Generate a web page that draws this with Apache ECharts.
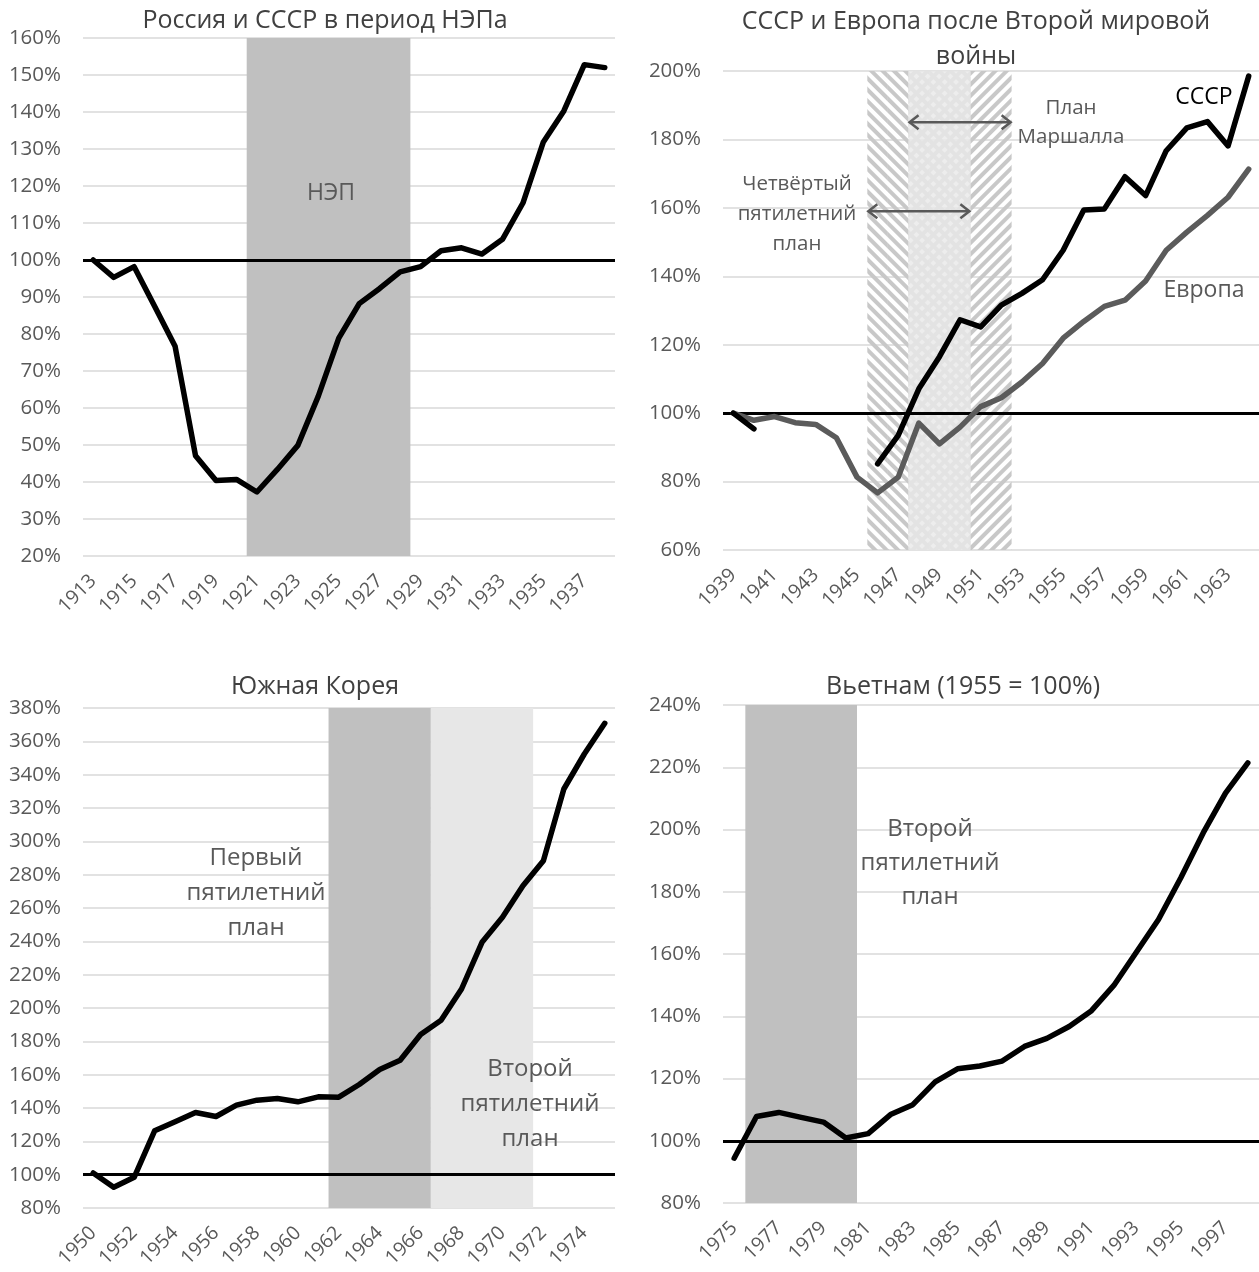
<!DOCTYPE html>
<html>
<head>
<meta charset="utf-8">
<script src="https://cdn.jsdelivr.net/npm/echarts@6/dist/echarts.min.js"></script>
<style>
  html, body { margin: 0; padding: 0; background: #fff; }
  #chart { width: 1259px; height: 1272px; }
</style>
</head>
<body>
<div id="chart"></div>
<script>
// --- данные (индекс, %)
var nepYears = ['1913','1914','1915','1916','1917','1918','1919','1920','1921','1922','1923','1924','1925',
  '1926','1927','1928','1929','1930','1931','1932','1933','1934','1935','1936','1937','1938'];
var nepIndex = [100, 95.3, 98.2, 87.5, 76.7, 47.1, 40.4, 40.7, 37.3, 43.4, 49.9, 63.2, 78.9,
  88.2, 92.3, 96.8, 98.2, 102.5, 103.3, 101.6, 105.6, 115.4, 131.9, 140.3, 152.8, 152.0];
var nepSpan = ['1921', '1928'];

var warYears = ['1939','1940','1941','1942','1943','1944','1945','1946','1947','1948','1949','1950','1951',
  '1952','1953','1954','1955','1956','1957','1958','1959','1960','1961','1962','1963','1964'];
var ussrIndex = [100, 95.4, null, null, null, null, null, 85.2, 93.5, 107.1, 116.5, 127.3, 125.2,
  131.6, 135, 139, 147.6, 159.4, 159.7, 169.1, 163.6, 176.7, 183.4, 185.2, 178.1, 198.5];
var europeIndex = [100, 97.9, 99, 97.2, 96.7, 92.8, 81.3, 76.7, 81.3, 97.1, 91.0, 95.9, 101.9,
  104.5, 109.1, 114.5, 121.9, 126.8, 131.2, 133, 138.6, 147.6, 152.9, 157.8, 163.1, 171.3];
var fourthPlanSpan = ['1946', '1950'];
var marshallSpan = ['1948', '1952'];

var koreaYears = ['1950','1951','1952','1953','1954','1955','1956','1957','1958','1959','1960','1961','1962',
  '1963','1964','1965','1966','1967','1968','1969','1970','1971','1972','1973','1974','1975'];
var koreaIndex = [101, 92.4, 98.4, 126.3, 131.7, 137.3, 134.9, 141.7, 144.7, 145.7, 143.7, 146.7, 146.5,
  154.1, 163.1, 168.7, 184.1, 192.6, 211.4, 239.4, 254.4, 273.4, 288.4, 331.4, 352.4, 370.8];
var koreaPlan1Span = ['1962', '1966'];
var koreaPlan2Span = ['1967', '1971'];

var vietYears = ['1975','1976','1977','1978','1979','1980','1981','1982','1983','1984','1985','1986',
  '1987','1988','1989','1990','1991','1992','1993','1994','1995','1996','1997','1998'];
var vietIndex = [94.4, 107.8, 109.1, 107.5, 106.0, 100.9, 102.3, 108.4, 111.6, 118.9, 123.1, 124.0,
  125.6, 130.3, 132.9, 136.7, 141.8, 149.9, 160.5, 171.1, 184.5, 198.9, 211.7, 221.4];
var vietPlan2Span = ['1976', '1980'];

(function() {
  var ink = '#000';
  var muted = '#595959';
  var rule = '#d9d9d9';
  var titleInk = '#404040';
  var font = '"Open Sans", "Noto Sans", sans-serif';

  var chart = echarts.init(document.getElementById('chart'), null, { renderer: 'canvas' });

  var grids = [
    { left: 83, right: 644, top: 38, bottom: 716 },
    { left: 723, right: 0, top: 71, bottom: 722 },
    { left: 83, right: 644, top: 708, bottom: 64 },
    { left: 723, right: 0, top: 705, bottom: 69 }
  ];
  var cats = [nepYears, warYears, koreaYears, vietYears];
  var yRange = [[20, 160, 10], [60, 200, 20], [80, 380, 20], [80, 240, 20]];

  function spanData(years, span, top) {
    return years.map(function(y) { return (y >= span[0] && y <= span[1]) ? top : '-'; });
  }

  var xAxes = cats.map(function(c, i) {
    return {
      type: 'category', gridIndex: i, data: c, boundaryGap: true,
      axisLine: { show: false }, axisTick: { show: false },
      axisLabel: { interval: 1, rotate: 45, fontSize: 19.5, color: muted, fontFamily: font, margin: 22 },
      splitLine: { show: false }
    };
  });
  var yAxes = yRange.map(function(r, i) {
    return {
      type: 'value', gridIndex: i, min: r[0], max: r[1], interval: r[2],
      axisLine: { show: false }, axisTick: { show: false },
      axisLabel: { fontSize: 20.5, color: muted, fontFamily: font, margin: 22,
        formatter: function(v) { return v + '%'; } },
      splitLine: { lineStyle: { color: rule, width: 1.5 } }
    };
  });

  var baseLine = {
    silent: true, symbol: ['none', 'none'],
    label: { show: false },
    lineStyle: { color: ink, width: 3, type: 'solid' },
    data: [{ yAxis: 100 }]
  };

  // сплошная заливка периода — один прямоугольник от края до края категорий
  function band(i, years, span, color, withBase, z) {
    var s = {
      type: 'custom', xAxisIndex: i, yAxisIndex: i, silent: true, z: z || 1,
      data: [[years.indexOf(span[0]), years.indexOf(span[1])]],
      encode: { x: [0, 1] },
      renderItem: function(params, api) {
        var a = api.coord([api.value(0), 0]);
        var b = api.coord([api.value(1), 0]);
        var w = api.size([1, 0])[0];
        var cs = params.coordSys;
        return {
          type: 'rect',
          shape: { x: a[0] - w / 2, y: cs.y, width: b[0] - a[0] + w, height: cs.height },
          style: { fill: color }
        };
      }
    };
    if (withBase) s.markLine = baseLine;
    return s;
  }
  function hatchBar(i, data, rot) {
    return {
      type: 'bar', xAxisIndex: i, yAxisIndex: i, data: data,
      barCategoryGap: '0%', barGap: '-100%', silent: true, z: 1,
      itemStyle: { color: 'rgba(0,0,0,0)',
        decal: { symbol: 'rect', symbolSize: 1, dashArrayX: [1, 0], dashArrayY: [4, 4],
          rotation: rot, color: '#c8c8c8' } }
    };
  }
  function line(i, data, color, name) {
    return {
      type: 'line', name: name, xAxisIndex: i, yAxisIndex: i, data: data,
      symbol: 'none', connectNulls: false, z: 6,
      lineStyle: { color: color, width: 5.5, cap: 'round', join: 'round' }
    };
  }

  var series = [
    // 1: НЭП
    band(0, nepYears, nepSpan, '#c0c0c0', true),
    line(0, nepIndex, ink, 'Россия/СССР'),
    // 2: СССР и Европа
    hatchBar(1, spanData(warYears, fourthPlanSpan, 200), Math.PI / 4),
    hatchBar(1, spanData(warYears, marshallSpan, 200), -Math.PI / 4),
    band(1, warYears, [marshallSpan[0], fourthPlanSpan[1]], 'rgba(233,233,233,0.82)', true, 3),
    line(1, europeIndex, '#5b5b5b', 'Европа'),
    line(1, ussrIndex, ink, 'СССР'),
    // 3: Южная Корея
    band(2, koreaYears, koreaPlan1Span, '#c0c0c0', true),
    band(2, koreaYears, koreaPlan2Span, '#e7e7e7', false),
    line(2, koreaIndex, ink, 'Южная Корея'),
    // 4: Вьетнам
    band(3, vietYears, vietPlan2Span, '#c0c0c0', true),
    line(3, vietIndex, ink, 'Вьетнам')
  ];

  chart.setOption({
    animation: false,
    backgroundColor: '#fff',
    textStyle: { fontFamily: font },
    grid: grids,
    xAxis: xAxes,
    yAxis: yAxes,
    series: series
  });

  function txt(x, y, text, size, color, lh) {
    return {
      type: 'text', x: x, y: y, silent: true, z: 10,
      style: { text: text, fill: color, fontSize: size, fontFamily: font,
        align: 'center', verticalAlign: 'middle', lineHeight: lh || size * 1.3 }
    };
  }
  function px(i, cat, val) {
    return chart.convertToPixel({ xAxisIndex: i, yAxisIndex: i }, [cat, val]);
  }
  function arrow(i, span, val) {
    var a = px(i, span[0], val), b = px(i, span[1], val);
    var half = (px(i, warYears[1], val)[0] - px(i, warYears[0], val)[0]) / 2;
    var x1 = a[0] - half, x2 = b[0] + half, y = a[1];
    var st = { stroke: muted, lineWidth: 2.5, fill: null };
    return [
      { type: 'line', silent: true, z: 10, shape: { x1: x1 + 1, y1: y, x2: x2 - 1, y2: y }, style: st },
      { type: 'polyline', silent: true, z: 10, shape: { points: [[x1 + 10, y - 7], [x1 + 1, y], [x1 + 10, y + 7]] }, style: st },
      { type: 'polyline', silent: true, z: 10, shape: { points: [[x2 - 10, y - 7], [x2 - 1, y], [x2 - 10, y + 7]] }, style: st }
    ];
  }

  var graphics = [
    txt(325, 21, 'Россия и СССР в период НЭПа', 25, titleInk),
    txt(976, 39, 'СССР и Европа после Второй мировой\nвойны', 25, titleInk, 35),
    txt(315, 687, 'Южная Корея', 25, titleInk),
    txt(963, 687, 'Вьетнам (1955 = 100%)', 25, titleInk),
    txt(331, 193, 'НЭП', 23, muted),
    txt(1204, 97, 'СССР', 23, ink),
    txt(1204, 290, 'Европа', 23, muted),
    txt(1071, 123, 'План\nМаршалла', 20.5, muted, 29),
    txt(797, 214, 'Четвёртый\nпятилетний\nплан', 20.5, muted, 30),
    txt(256, 893, 'Первый\nпятилетний\nплан', 24, muted, 35),
    txt(530, 1104, 'Второй\nпятилетний\nплан', 24, muted, 35),
    txt(930, 863, 'Второй\nпятилетний\nплан', 24, muted, 34)
  ].concat(arrow(1, marshallSpan, 185), arrow(1, fourthPlanSpan, 159));

  chart.setOption({ graphic: graphics });

  window.addEventListener('resize', function() { chart.resize(); });
})();
</script>
</body>
</html>
